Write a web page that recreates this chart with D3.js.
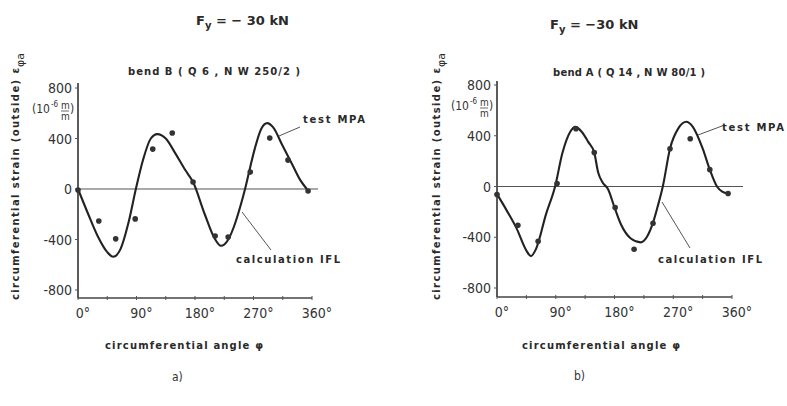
<!DOCTYPE html>
<html>
<head>
<meta charset="utf-8">
<script src="https://cdn.jsdelivr.net/npm/d3@7"></script>
<style>
  body { margin: 0; background: #fff; }
  svg { display: block; }
  .tick-label { font-family: "DejaVu Sans Condensed", "DejaVu Sans", sans-serif; font-stretch: condensed; font-size: 14px; fill: #333; }
  .bold-label { font-family: "DejaVu Sans", sans-serif; font-weight: bold; font-size: 10px; fill: #2a2a2a; }
</style>
</head>
<body>
<script>
// tick values
const angleTicks = [0, 90, 180, 270, 360];
const angleMinorTicks = [0, 45, 90, 135, 180, 225, 270, 315, 360];
const strainTicks = [800, 400, 0, -400, -800];

// bend B (left) - calculation IFL curve
const bendBCalcAngle = [0, 15, 30, 45, 54, 65, 78, 89, 100, 112, 122, 135, 150, 165, 177, 195, 210, 220, 230, 240, 250, 257, 265, 272, 282, 291, 300, 315, 330, 342, 352];
const bendBCalcStrain = [0, -190, -370, -500, -537, -480, -260, 0, 230, 400, 435, 400, 280, 150, 55, -200, -390, -450, -410, -297, -133, 0, 175, 320, 478, 522, 490, 340, 190, 70, 0];
// bend B - test MPA points
const bendBTestAngle = [0, 32, 58, 88, 115, 145, 177, 211, 231, 265, 295, 323, 354];
const bendBTestStrain = [-8, -253, -395, -237, 316, 443, 55, -372, -380, 134, 403, 229, -16];

// bend A (right) - calculation IFL curve
const bendACalcAngle = [0, 15, 30, 45, 52, 60, 75, 89, 100, 112, 120, 130, 140, 149, 155, 162, 170, 180, 190, 205, 220, 230, 239, 246, 254, 265, 278, 290, 300, 315, 326, 337, 345, 354];
const bendACalcStrain = [-60, -190, -330, -505, -549, -490, -220, 0, 260, 430, 470, 430, 350, 267, 110, 30, -20, -165, -300, -410, -440, -394, -285, -160, 0, 298, 460, 510, 470, 300, 133, 0, -40, -55];
// bend A - test MPA points
const bendATestAngle = [0, 32, 63, 92, 121, 149, 181, 210, 239, 265, 296, 326, 354];
const bendATestStrain = [-63, -306, -431, 24, 455, 267, -165, -494, -290, 298, 376, 133, -55];

const width = 787, height = 406;

const svg = d3.select("body").append("svg")
    .attr("width", width)
    .attr("height", height);

const panels = [
  {
    force: "\u2212 30 kN", forceX: 196, forceY: 25,
    title: "bend  B  ( Q 6 , N W 250/2 )", titleX: 128, titleY: 75, titleLen: 172,
    x: [78, 312], y: [290, 88], axisTop: 83, axisBottom: 298, zeroEnd: 318, axisRight: 312,
    calc: bendBCalcAngle.map((a, i) => [a, bendBCalcStrain[i]]),
    test: bendBTestAngle.map((a, i) => [a, bendBTestStrain[i]]),
    ylabX: 19, xlabX: 105, xlabY: 349, sub: "a)", subX: 172, subY: 381,
    testLab: [303, 123], testLine: [[279, 136], [300, 127]],
    calcLab: [236, 263], calcLine: [[242, 212], [271, 250]]
  },
  {
    force: "\u221230 kN", forceX: 550, forceY: 29,
    title: "bend  A  ( Q 14 , N W 80/1 )", titleX: 553, titleY: 76, titleLen: 152,
    x: [497, 732], y: [288, 85], axisTop: 81, axisBottom: 297, zeroEnd: 743, axisRight: 732,
    calc: bendACalcAngle.map((a, i) => [a, bendACalcStrain[i]]),
    test: bendATestAngle.map((a, i) => [a, bendATestStrain[i]]),
    ylabX: 440, xlabX: 522, xlabY: 349, sub: "b)", subX: 574, subY: 380,
    testLab: [722, 131], testLine: [[698, 135], [722, 126]],
    calcLab: [658, 263], calcLine: [[662, 202], [690, 248]]
  }
];

panels.forEach(p => {
  const x = d3.scaleLinear().domain([0, 360]).range(p.x);
  const y = d3.scaleLinear().domain([-800, 800]).range(p.y);
  const g = svg.append("g");
  const x0 = x(0);

  // force title
  const ft = g.append("text").attr("class", "bold-label")
      .attr("x", p.forceX).attr("y", p.forceY)
      .style("font-size", "13px");
  ft.append("tspan").text("F");
  ft.append("tspan").attr("dy", 4).style("font-size", "10px").text("y");
  ft.append("tspan").attr("dy", -4).text(" = " + p.force);

  // bend title
  g.append("text").attr("class", "bold-label")
      .attr("x", p.titleX).attr("y", p.titleY)
      .attr("textLength", p.titleLen).attr("lengthAdjust", "spacing")
      .text(p.title);

  // axes
  g.append("line")
      .attr("x1", x0).attr("x2", x0)
      .attr("y1", p.axisTop).attr("y2", p.axisBottom)
      .attr("stroke", "#333").attr("stroke-width", 1.6);
  g.append("line")
      .attr("x1", x0).attr("x2", p.axisRight)
      .attr("y1", p.axisBottom).attr("y2", p.axisBottom)
      .attr("stroke", "#444").attr("stroke-width", 1.4);
  // zero line
  g.append("line")
      .attr("x1", x0).attr("x2", p.zeroEnd)
      .attr("y1", y(0)).attr("y2", y(0))
      .attr("stroke", "#555").attr("stroke-width", 1.1);

  // y ticks
  g.selectAll(".ytick").data(strainTicks).join("line")
      .attr("x1", x0 - 3).attr("x2", x0)
      .attr("y1", d => y(d)).attr("y2", d => y(d))
      .attr("stroke", "#555").attr("stroke-width", 1);
  g.selectAll(".ylab").data(strainTicks).join("text")
      .attr("class", "tick-label")
      .attr("x", x0 - 6).attr("y", d => y(d))
      .attr("dy", "0.36em")
      .attr("text-anchor", "end")
      .text(d => d < 0 ? "-" + Math.abs(d) : d);

  // unit [10^-6 m/m]
  const u = g.append("g").attr("transform", `translate(${x0 - 46},${y(800) + 25})`);
  u.append("text").attr("class", "tick-label").style("font-size", "12px")
      .attr("x", 0).attr("y", 0).text("(10");
  u.append("text").attr("class", "tick-label").style("font-size", "8px")
      .attr("x", 19).attr("y", -6).text("-6");
  u.append("text").attr("class", "tick-label").style("font-size", "10px")
      .attr("x", 29).attr("y", -4).text("m");
  u.append("line").attr("x1", 29).attr("x2", 37).attr("y1", -2).attr("y2", -2)
      .attr("stroke", "#444").attr("stroke-width", 0.8);
  u.append("text").attr("class", "tick-label").style("font-size", "10px")
      .attr("x", 29).attr("y", 7).text("m");
  u.append("text").attr("class", "tick-label").style("font-size", "12px")
      .attr("x", 38).attr("y", 0).text(")");

  // x ticks
  g.selectAll(".xtick").data(angleMinorTicks).join("line")
      .attr("x1", d => x(d)).attr("x2", d => x(d))
      .attr("y1", p.axisBottom - 2).attr("y2", p.axisBottom + 2)
      .attr("stroke", "#555").attr("stroke-width", 1);
  g.selectAll(".xlab").data(angleTicks).join("text")
      .attr("class", "tick-label")
      .attr("x", d => x(d) + 5).attr("y", p.axisBottom + 20)
      .attr("text-anchor", "middle")
      .text(d => d + "\u00b0");

  // axis labels
  g.append("text").attr("class", "bold-label")
      .attr("x", p.xlabX).attr("y", p.xlabY)
      .attr("textLength", 158).attr("lengthAdjust", "spacing")
      .text("circumferential  angle \u03c6");

  g.append("text").attr("class", "bold-label")
      .attr("transform", `translate(${p.ylabX},300) rotate(-90)`)
      .attr("textLength", 232).attr("lengthAdjust", "spacing")
      .text("circumferential   strain (outside) \u03b5");
  g.append("text").attr("class", "bold-label")
      .attr("transform", `translate(${p.ylabX + 5},67) rotate(-90)`)
      .style("font-size", "11px").style("font-weight", "normal")
      .text("\u03c6a");

  // calculation IFL curve
  const line = d3.line()
      .x(d => x(d[0]))
      .y(d => y(d[1]))
      .curve(d3.curveMonotoneX);
  g.append("path")
      .attr("d", line(p.calc))
      .attr("fill", "none")
      .attr("stroke", "#222")
      .attr("stroke-width", 2.1);

  // test MPA points
  g.selectAll(".pt").data(p.test).join("circle")
      .attr("cx", d => x(d[0]))
      .attr("cy", d => y(d[1]))
      .attr("r", 2.8)
      .attr("fill", "#333");

  // annotations
  g.append("line")
      .attr("x1", p.testLine[0][0]).attr("y1", p.testLine[0][1])
      .attr("x2", p.testLine[1][0]).attr("y2", p.testLine[1][1])
      .attr("stroke", "#555").attr("stroke-width", 1);
  g.append("text").attr("class", "bold-label")
      .attr("x", p.testLab[0]).attr("y", p.testLab[1])
      .attr("textLength", 62).attr("lengthAdjust", "spacing")
      .text("test  MPA");
  g.append("line")
      .attr("x1", p.calcLine[0][0]).attr("y1", p.calcLine[0][1])
      .attr("x2", p.calcLine[1][0]).attr("y2", p.calcLine[1][1])
      .attr("stroke", "#555").attr("stroke-width", 1);
  g.append("text").attr("class", "bold-label")
      .attr("x", p.calcLab[0]).attr("y", p.calcLab[1])
      .attr("textLength", 104).attr("lengthAdjust", "spacing")
      .text("calculation  IFL");

  // sub caption
  g.append("text").attr("class", "tick-label")
      .attr("x", p.subX).attr("y", p.subY)
      .style("font-size", "12px")
      .text(p.sub);
});
</script>
</body>
</html>
